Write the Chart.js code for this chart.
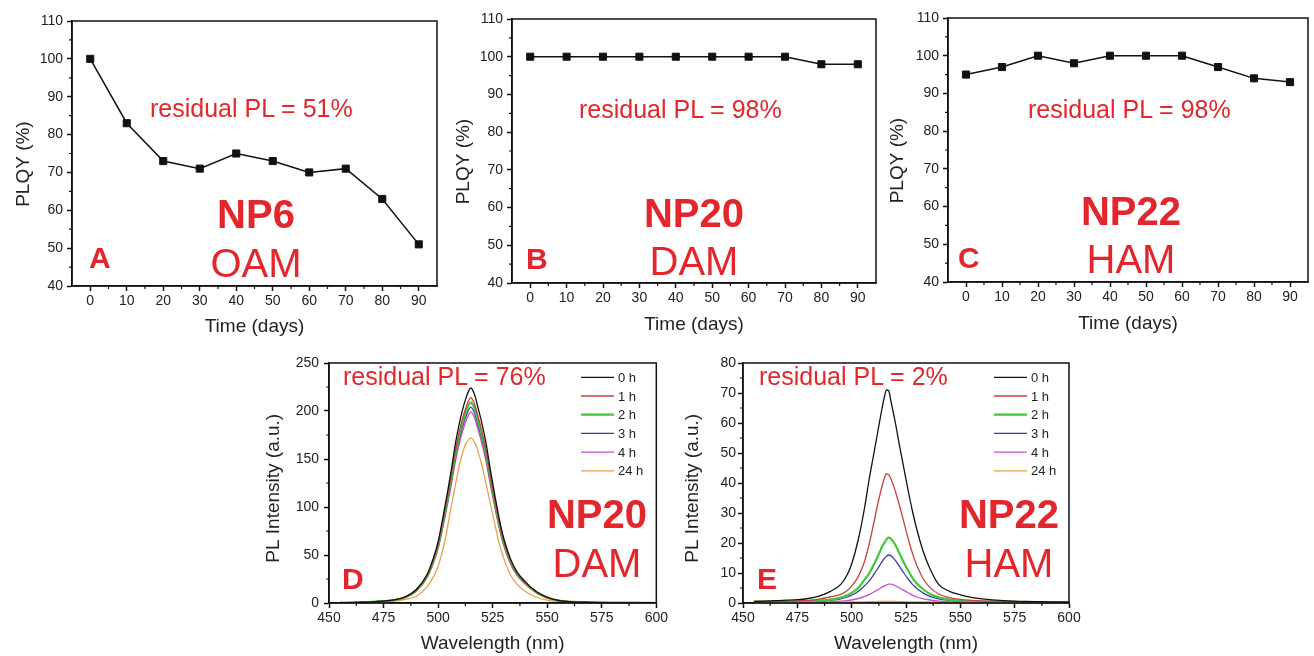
<!DOCTYPE html>
<html>
<head>
<meta charset="utf-8">
<title>PLQY stability</title>
<script src="https://cdn.jsdelivr.net/npm/chart.js@4.4.0/dist/chart.umd.min.js"></script>
<style>
  body { margin: 0; background: #fff; width: 1314px; height: 656px; position: relative; overflow: hidden;
         font-family: "Liberation Sans", Arial, sans-serif; }
  .panel { position: absolute; }
  .note { position: absolute; color: #e3262b; line-height: 1; white-space: nowrap; }
</style>
</head>
<body>
<div class="panel" style="left:0;top:0;width:445px;height:340px"><canvas id="chartA"></canvas></div>
<div class="panel" style="left:440px;top:0;width:445px;height:340px"><canvas id="chartB"></canvas></div>
<div class="panel" style="left:876px;top:0;width:438px;height:340px"><canvas id="chartC"></canvas></div>
<div class="panel" style="left:250px;top:340px;width:420px;height:316px"><canvas id="chartD"></canvas></div>
<div class="panel" style="left:670px;top:340px;width:420px;height:316px"><canvas id="chartE"></canvas></div>
<script>
// --- top row: PLQY vs time ---
const days = [0, 10, 20, 30, 40, 50, 60, 70, 80, 90];
const plqyNP6 = [100, 83, 73, 71, 75, 73, 70, 71, 63, 51];
const plqyNP20 = [100, 100, 100, 100, 100, 100, 100, 100, 98, 98];
const plqyNP22 = [95, 97, 100, 98, 100, 100, 100, 97, 94, 93];
const dayTicks = [0, 10, 20, 30, 40, 50, 60, 70, 80, 90];
const plqyTicks = [40, 50, 60, 70, 80, 90, 100, 110];

// --- bottom row: PL spectra ---
const hours = ['0 h', '1 h', '2 h', '3 h', '4 h', '24 h'];
const hourColors = ['#111111', '#c8413f', '#3fc83a', '#3b3ba6', '#c94fc9', '#e8a24a'];
const wlTicks = [450, 475, 500, 525, 550, 575, 600];
const ticksD = [0, 50, 100, 150, 200, 250];
const ticksE = [0, 10, 20, 30, 40, 50, 60, 70, 80];

const wlD = [455, 465, 475, 480, 485, 490, 495, 498, 500, 503, 506, 508, 510, 512, 513, 514, 515, 516, 517, 518,
             520, 522, 524, 526, 528, 530, 533, 536, 540, 545, 550, 555, 560, 570, 580, 590, 600];
const np20_0h = [0.3, 0.8, 2, 3.3, 6.5, 14, 30, 48, 64, 99, 138, 167, 190, 208, 215, 221, 224, 221, 215, 206,
                 188, 166, 138, 112, 88, 68, 47, 33, 22, 12, 6, 2.8, 1.5, 0.7, 0.4, 0.3, 0.2];
const np20_1h = [0.3, 0.8, 1.9, 3.2, 6.2, 13.4, 28.7, 45.8, 61, 94.5, 132, 159.5, 181.5, 198.5, 205, 211, 214, 211, 205, 197,
                 179.5, 158.5, 132, 107, 84, 65, 45, 31.5, 21, 11.5, 5.7, 2.7, 1.4, 0.7, 0.4, 0.3, 0.2];
const np20_2h = [0.3, 0.7, 1.9, 3.1, 6.1, 13.1, 28, 44.8, 59.7, 92.4, 128.8, 155.8, 177.3, 194, 200.6, 206.2, 209, 206.2, 200.6, 192.2,
                 175.4, 154.9, 128.8, 104.5, 82.1, 63.4, 43.9, 30.8, 20.5, 11.2, 5.6, 2.6, 1.4, 0.7, 0.4, 0.3, 0.2];
const np20_3h = [0.3, 0.7, 1.8, 3, 5.9, 12.8, 27.3, 43.7, 58.3, 90.2, 125.7, 152.1, 173.1, 189.5, 195.9, 201.3, 204, 201.3, 195.9, 187.7,
                 171.3, 151.2, 125.7, 102, 80.2, 61.9, 42.8, 30.1, 20, 10.9, 5.5, 2.6, 1.4, 0.6, 0.4, 0.3, 0.2];
const np20_4h = [0.3, 0.7, 1.8, 2.9, 5.8, 12.4, 26.6, 42.6, 56.8, 87.9, 122.5, 148.3, 168.7, 184.7, 190.9, 196.2, 199, 196.2, 190.9, 182.9,
                 166.9, 147.4, 122.5, 99.5, 78.1, 60.4, 41.7, 29.3, 19.5, 10.7, 5.3, 2.5, 1.3, 0.6, 0.4, 0.3, 0.2];
const np20_24h = [0.2, 0.5, 1.2, 2, 3.8, 7, 17, 28, 38, 64, 100, 124, 146, 162, 167, 170.5, 172, 170, 166, 160,
                  144, 124, 103, 82, 62, 47, 30, 20, 12, 6, 3, 1.6, 1, 0.5, 0.3, 0.2, 0.2];

const wlE = [455, 465, 475, 480, 485, 490, 495, 498, 500, 503, 506, 508, 510, 512, 514, 515, 516, 517, 518, 520,
             522, 524, 526, 528, 530, 533, 536, 540, 545, 550, 555, 560, 570, 580, 590, 600];
const np22_0h = [0.5, 0.8, 1.1, 1.5, 2.3, 3.8, 6.2, 9.5, 13, 21, 32, 41, 49, 57, 65, 68.5, 71, 70.8, 67.5, 60.5,
                 52.5, 45, 37.5, 30.5, 24.5, 17, 11.5, 6.2, 3.9, 2.7, 1.9, 1.4, 0.8, 0.5, 0.4, 0.3];
const np22_1h = [0.5, 0.5, 0.7, 0.9, 1.3, 2, 2.9, 4.2, 5.6, 8.8, 14, 19.5, 26, 33, 39, 41.5, 43, 42.8, 41.5, 37.5,
                 32.5, 27, 21.5, 16.5, 12.5, 8, 5.2, 3, 1.8, 1.2, 0.9, 0.7, 0.5, 0.4, 0.3, 0.3];
const np22_2h = [0.4, 0.4, 0.5, 0.6, 0.8, 1.1, 1.8, 2.6, 3.4, 5, 7.8, 9.8, 12.5, 15.5, 18.8, 20, 21.2, 21.8, 21.5, 19.5,
                 16.5, 13.5, 10.8, 8.3, 6.5, 4.5, 3, 1.9, 1.1, 0.8, 0.6, 0.5, 0.4, 0.3, 0.3, 0.3];
const np22_3h = [0.3, 0.3, 0.4, 0.5, 0.6, 0.9, 1.4, 2, 2.6, 3.8, 5.8, 7.3, 9.3, 11.5, 13.8, 14.8, 15.6, 16, 15.8, 14.3,
                 12.2, 10, 8, 6.2, 4.8, 3.3, 2.2, 1.4, 0.9, 0.6, 0.5, 0.4, 0.3, 0.3, 0.3, 0.3];
const np22_4h = [0.2, 0.2, 0.2, 0.3, 0.3, 0.4, 0.6, 0.8, 1, 1.5, 2.2, 2.8, 3.6, 4.4, 5.3, 5.7, 6, 6.3, 6.3, 5.8,
                 5, 4.2, 3.4, 2.6, 2, 1.4, 1, 0.6, 0.4, 0.3, 0.3, 0.2, 0.2, 0.2, 0.2, 0.2];
const np22_24h = [0.3, 0.3, 0.3, 0.3, 0.3, 0.3, 0.3, 0.35, 0.35, 0.4, 0.4, 0.45, 0.45, 0.5, 0.5, 0.5, 0.5, 0.5, 0.5, 0.5,
                  0.45, 0.45, 0.4, 0.4, 0.4, 0.35, 0.35, 0.3, 0.3, 0.3, 0.3, 0.3, 0.3, 0.3, 0.3, 0.3];

const INK = '#111';
const FONT = '"Liberation Sans", Arial, sans-serif';
Chart.defaults.font.family = FONT;
Chart.defaults.color = '#222';
Chart.defaults.animation = false;

// box around the plot + short minor ticks (Origin style)
const framePlugin = {
  id: 'frame',
  afterDraw(chart, args, opts) {
    const { ctx, chartArea: a, scales } = chart;
    ctx.save();
    ctx.strokeStyle = INK;
    ctx.lineWidth = 1.5;
    ctx.strokeRect(a.left, a.top, a.right - a.left, a.bottom - a.top);
    ctx.lineWidth = 1.2;
    ctx.beginPath();
    opts.minorX.forEach(v => {
      const px = scales.x.getPixelForValue(v);
      ctx.moveTo(px, a.bottom); ctx.lineTo(px, a.bottom + 3);
    });
    opts.minorY.forEach(v => {
      const py = scales.y.getPixelForValue(v);
      ctx.moveTo(a.left, py); ctx.lineTo(a.left - 3, py);
    });
    ctx.stroke();
    ctx.restore();
  }
};

// legend drawn inside the plot, top right
const legendBox = {
  id: 'legendBox',
  afterDatasetsDraw(chart, args, opts) {
    if (!opts.show) return;
    const { ctx, chartArea } = chart;
    ctx.save();
    ctx.font = '13px ' + FONT;
    ctx.textBaseline = 'middle';
    chart.data.datasets.forEach((ds, i) => {
      const x = chartArea.left + opts.left;
      const y = chartArea.top + opts.top + i * opts.step;
      ctx.strokeStyle = ds.borderColor;
      ctx.lineWidth = ds.borderWidth;
      ctx.beginPath(); ctx.moveTo(x, y); ctx.lineTo(x + 33, y); ctx.stroke();
      ctx.fillStyle = '#222';
      ctx.fillText(ds.label, x + 37, y + 1);
    });
    ctx.restore();
  }
};

function scale(o) {
  return {
    type: 'linear',
    min: o.min, max: o.max,
    afterBuildTicks: s => { s.ticks = o.ticks.map(v => ({ value: v })); },
    afterFit: s => { if (s.isHorizontal()) s.height = o.size; else s.width = o.size; },
    grid: { drawOnChartArea: false, drawTicks: true, tickLength: 5, tickColor: INK, tickWidth: 1.5 },
    border: { display: true, color: INK, width: 1.5 },
    ticks: { font: { size: 14 }, color: '#222', padding: o.tickPad },
    title: { display: true, text: o.title, color: '#222', font: { size: 19 }, padding: o.titlePad }
  };
}

function makeChart(id, datasets, g) {
  return new Chart(document.getElementById(id), {
    type: 'line',
    data: { datasets },
    options: {
      responsive: true,
      maintainAspectRatio: false,
      layout: { padding: { top: g.padTop, right: g.padRight, left: 0, bottom: 0 } },
      scales: { x: scale(g.x), y: scale(g.y) },
      plugins: {
        legend: { display: false },
        tooltip: { enabled: false },
        frame: { minorX: g.minorX, minorY: g.minorY },
        legendBox: g.legend || { show: false }
      }
    },
    plugins: [framePlugin, legendBox]
  });
}

function plqySet(values) {
  return [{
    label: 'PLQY',
    data: days.map((d, i) => ({ x: d, y: values[i] })),
    borderColor: INK, backgroundColor: INK, borderWidth: 1.5,
    pointStyle: 'rect', pointRadius: 5, pointBorderWidth: 1, tension: 0
  }];
}

function spectraSets(wl, series) {
  return series.map((vals, i) => ({
    label: hours[i],
    data: wl.map((w, j) => ({ x: w, y: vals[j] })),
    borderColor: hourColors[i],
    borderWidth: i === 2 ? 2.2 : 1.3,
    pointRadius: 0,
    cubicInterpolationMode: 'monotone'
  }));
}

const minorDays = [5, 15, 25, 35, 45, 55, 65, 75, 85];
const minorPlqy = [45, 55, 65, 75, 85, 95, 105];
const minorWl = [462.5, 487.5, 512.5, 537.5, 562.5, 587.5];

function timeAxes(xSize, titleBottom, yTitleLeft) {
  return {
    x: { min: -5, max: 95, ticks: dayTicks, size: xSize, tickPad: 2, title: 'Time (days)', titlePad: { top: 0, bottom: titleBottom } },
    y: { min: 40, max: 110, ticks: plqyTicks, size: 72, tickPad: 4, title: 'PLQY (%)    ', titlePad: { top: yTitleLeft, bottom: 0 } }
  };
}

makeChart('chartA', plqySet(plqyNP6), Object.assign({ padTop: 21, padRight: 8, minorX: minorDays, minorY: minorPlqy }, timeAxes(54, 2, 12)));
makeChart('chartB', plqySet(plqyNP20), Object.assign({ padTop: 19, padRight: 9, minorX: minorDays, minorY: minorPlqy }, timeAxes(57, 4, 12)));
makeChart('chartC', plqySet(plqyNP22), Object.assign({ padTop: 18, padRight: 2, minorX: minorDays, minorY: minorPlqy }, timeAxes(58, 5, 10)));

makeChart('chartD', spectraSets(wlD, [np20_0h, np20_1h, np20_2h, np20_3h, np20_4h, np20_24h]), {
  padTop: 23, padRight: 13,
  x: { min: 450, max: 600, ticks: wlTicks, size: 53, tickPad: 2, title: 'Wavelength (nm)', titlePad: { top: 0, bottom: 1 } },
  y: { min: 0, max: 250, ticks: ticksD, size: 79, tickPad: 5, title: 'PL Intensity (a.u.)  ', titlePad: { top: 12, bottom: 0 } },
  minorX: minorWl, minorY: [25, 75, 125, 175, 225],
  legend: { show: true, left: 252, top: 14.3, step: 18.7 }
});

makeChart('chartE', spectraSets(wlE, [np22_0h, np22_1h, np22_2h, np22_3h, np22_4h, np22_24h]), {
  padTop: 23, padRight: 21,
  x: { min: 450, max: 600, ticks: wlTicks, size: 53, tickPad: 2, title: 'Wavelength (nm)', titlePad: { top: 0, bottom: 1 } },
  y: { min: 0, max: 80, ticks: ticksE, size: 73, tickPad: 2, title: 'PL Intensity (a.u.)  ', titlePad: { top: 11, bottom: 0 } },
  minorX: minorWl, minorY: [5, 15, 25, 35, 45, 55, 65, 75],
  legend: { show: true, left: 251, top: 14.3, step: 18.7 }
});

// red annotations: text, x, baseline, font size, bold, centred
const notes = [
  ['residual PL = 51%', 150, 117, 25, false, false], ['NP6', 256, 228, 40, true, true],
  ['OAM', 256, 277, 40, false, true], ['A', 89, 268, 30, true, false],
  ['residual PL = 98%', 579, 118, 25, false, false], ['NP20', 694, 227, 40, true, true],
  ['DAM', 694, 275, 40, false, true], ['B', 526, 269, 30, true, false],
  ['residual PL = 98%', 1028, 118, 25, false, false], ['NP22', 1131, 225, 40, true, true],
  ['HAM', 1131, 273, 40, false, true], ['C', 958, 268, 30, true, false],
  ['residual PL = 76%', 343, 385, 25, false, false], ['NP20', 597, 528, 40, true, true],
  ['DAM', 597, 577, 40, false, true], ['D', 342, 589, 30, true, false],
  ['residual PL = 2%', 759, 385, 25, false, false], ['NP22', 1009, 528, 40, true, true],
  ['HAM', 1009, 577, 40, false, true], ['E', 757, 589, 30, true, false]
];

notes.forEach(([text, x, base, size, bold, centred]) => {
  const el = document.createElement('div');
  el.className = 'note';
  el.textContent = text;
  el.style.fontSize = size + 'px';
  el.style.fontWeight = bold ? 'bold' : 'normal';
  el.style.left = x + 'px';
  el.style.top = (base - 0.8465 * size) + 'px';
  if (centred) el.style.transform = 'translateX(-50%)';
  document.body.appendChild(el);
});
</script>
</body>
</html>
